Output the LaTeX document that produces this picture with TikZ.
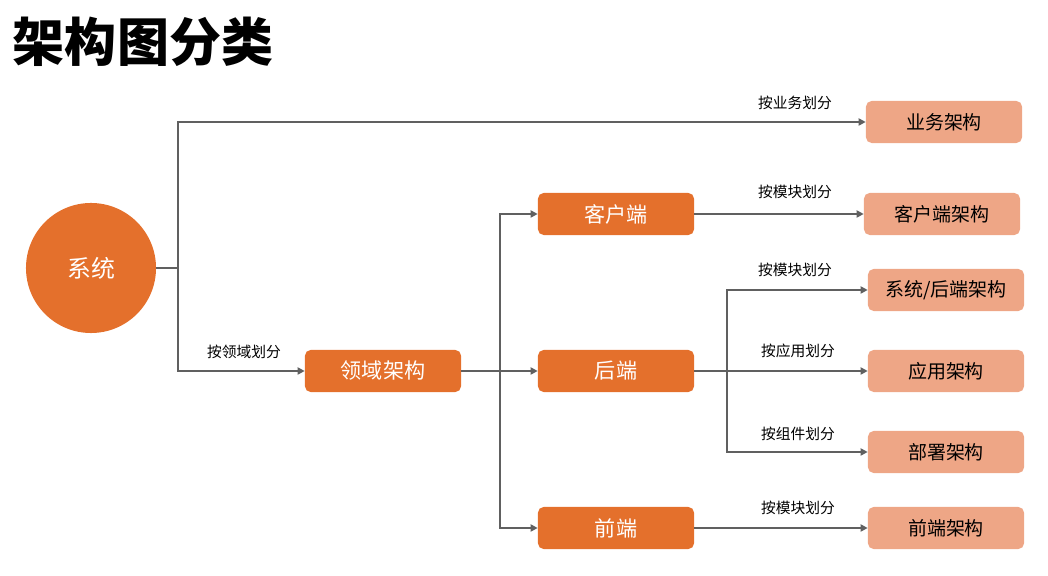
\documentclass[tikz,border=0pt]{standalone}
\usepackage{fontspec}
\newfontfamily\cjk{Noto Sans CJK SC}
\usepackage{tikz}
\usetikzlibrary{positioning,arrows.meta,calc}
\definecolor{darkorange}{RGB}{228,112,44}
\definecolor{lightorange}{RGB}{238,166,134}
\definecolor{linegray}{RGB}{96,96,96}

\begin{document}
\begin{tikzpicture}[x=0.025cm,y=-0.025cm,
dark/.style={fill=darkorange,rounded corners=4pt,minimum width=3.9cm,minimum height=1.05cm,text=white,font=\cjk\fontsize{15}{17}\selectfont},
light/.style={fill=lightorange,rounded corners=4pt,minimum width=3.9cm,minimum height=1.05cm,text=black,font=\cjk\fontsize{13.5}{16}\selectfont},
lbl/.style={font=\cjk\fontsize{10.5}{12}\selectfont,inner sep=1pt},
arr/.style={-{Triangle[length=5pt,width=5pt]},line width=1.6pt,draw=linegray},
ln/.style={line width=1.6pt,draw=linegray}]
\useasboundingbox (0,0) rectangle (1048,576);
\node[font=\cjk\bfseries\fontsize{37}{40}\selectfont,anchor=west] (title) at (8,42) {架构图分类};
\node[circle,fill=darkorange,minimum size=3.25cm,text=white,font=\cjk\fontsize{17}{19}\selectfont] (sys) at (91,268) {系统};
\node[dark] (domain) at (383,371) {领域架构};
\node[dark] (client) at (616,214) {客户端};
\node[dark] (backend) at (616,371) {后端};
\node[dark] (frontend) at (616,528) {前端};
\node[light] (bizarch) at (944,122) {业务架构};
\node[light] (clientarch) at (942,214) {客户端架构};
\node[light] (sysarch) at (946,290) {系统/后端架构};
\node[light] (apparch) at (946,371) {应用架构};
\node[light] (deparch) at (946,452) {部署架构};
\node[light] (frontarch) at (946,528) {前端架构};
\coordinate (rootfork) at (178,268);
\coordinate (domfork) at (500,371);
\coordinate (befork) at (727,371);
\draw[ln] (sys) -- (rootfork);
\draw[arr] (rootfork) |- (bizarch);
\draw[arr] (rootfork) |- (domain);
\draw[ln] (domain) -- (domfork);
\draw[arr] (domfork) |- (client);
\draw[arr] (domfork) -- (backend);
\draw[arr] (domfork) |- (frontend);
\draw[arr] (client) -- (clientarch);
\draw[ln] (backend) -- (befork);
\draw[arr] (befork) |- (sysarch);
\draw[arr] (befork) -- (apparch);
\draw[arr] (befork) |- (deparch);
\draw[arr] (frontend) -- (frontarch);
\node[lbl] (bylob) at (795,103) {按业务划分};
\node[lbl] (bydomain) at (244,352) {按领域划分};
\node[lbl] (bymodc) at (795,192) {按模块划分};
\node[lbl] (bymodb) at (795,270) {按模块划分};
\node[lbl] (byapp) at (798,351) {按应用划分};
\node[lbl] (bycomp) at (798,434) {按组件划分};
\node[lbl] (bymodf) at (798,508) {按模块划分};
\end{tikzpicture}
\end{document}
